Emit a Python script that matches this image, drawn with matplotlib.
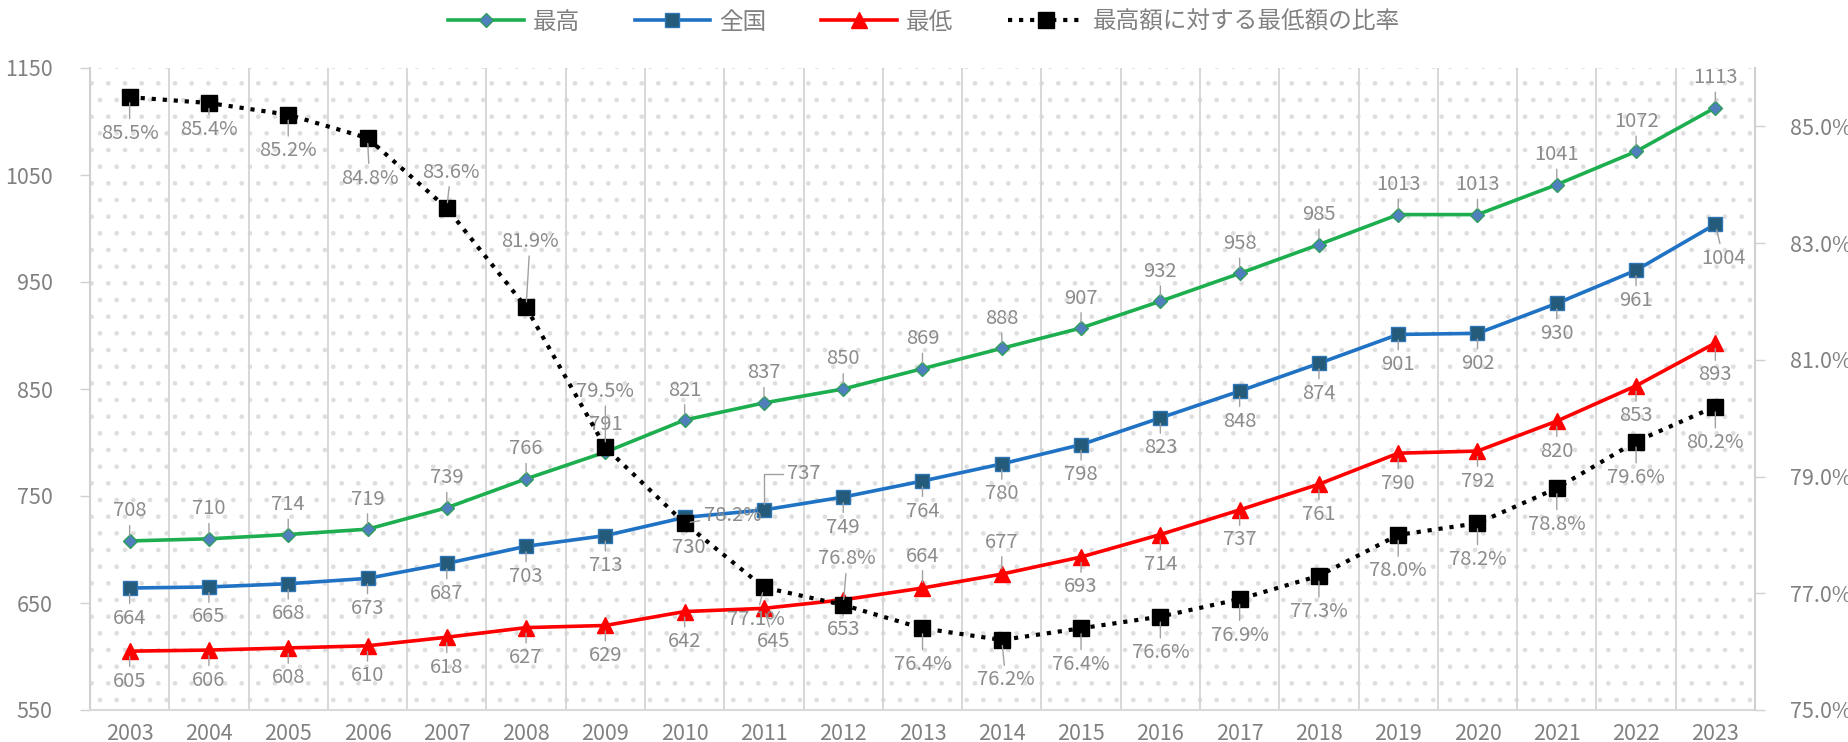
import matplotlib
matplotlib.use("Agg")
import matplotlib.pyplot as plt
from matplotlib.patches import Rectangle
import numpy as np

plt.rcParams['font.family'] = ['Noto Sans CJK JP', 'DejaVu Sans']
plt.rcParams['hatch.linewidth'] = 0.9

years = [str(y) for y in range(2003, 2024)]
highest = [708, 710, 714, 719, 739, 766, 791, 821, 837, 850, 869, 888, 907, 932, 958, 985, 1013, 1013, 1041, 1072, 1113]
national = [664, 665, 668, 673, 687, 703, 713, 730, 737, 749, 764, 780, 798, 823, 848, 874, 901, 902, 930, 961, 1004]
lowest = [605, 606, 608, 610, 618, 627, 629, 642, 645, 653, 664, 677, 693, 714, 737, 761, 790, 792, 820, 853, 893]
ratio = [85.5, 85.4, 85.2, 84.8, 83.6, 81.9, 79.5, 78.2, 77.1, 76.8, 76.4, 76.2, 76.4, 76.6, 76.9, 77.3, 78.0, 78.2, 78.8, 79.6, 80.2]

labels_legend = ['最高', '全国', '最低', '最高額に対する最低額の比率']

# label offsets in pixels (layout only)
off_high = list([(0, 30)] * 21)
off_high[6] = (0, 28)
off_nat = list([(0, -30)] * 21)
off_nat[7] = (4, -30)
off_nat[8] = (40, 36)
off_nat[20] = (8, -34)
off_low = list([(0, -30)] * 21)
off_low[8] = (10, -33)
off_low[10] = (0, 32)
off_low[11] = (0, 32)
off_low[20] = (0, -32)
off_ratio = list([(0, -36)] * 21)
off_ratio[1] = (0, -26)
off_ratio[3] = (2, -40)
off_ratio[4] = (4, 36)
off_ratio[5] = (4, 66)
off_ratio[6] = (0, 56)
off_ratio[7] = (48, 8)
off_ratio[8] = (-8, -32)
off_ratio[11] = (4, -40)
off_ratio[9] = (4, 46)

W, H = 1848, 742
fig = plt.figure(figsize=(W / 100, H / 100), dpi=100)
L, R, T, B = 90, 1755, 68, 710
ax = fig.add_axes([L / W, 1 - B / H, (R - L) / W, (B - T) / H])
ax2 = ax.twinx()

x = np.arange(len(years))
gray = '#808080'
lblcol = '#8c8c8c'

# dotted background
ax.add_patch(Rectangle((0, 0), 1, 1, transform=ax.transAxes, facecolor='white',
                       edgecolor='#dedede', hatch='.', lw=0, zorder=0))

l1, = ax.plot(x, highest, color='#1DAE4F', lw=2.6, marker='D', ms=7,
              mfc='#4F7FBD', mec='#2E9E5B', mew=1, zorder=4)
l2, = ax.plot(x, national, color='#1F72C4', lw=2.6, marker='s', ms=10,
              mfc='#245A7A', mec='#2E75B6', mew=1, zorder=4)
l3, = ax.plot(x, lowest, color='#FF0000', lw=2.6, marker='^', ms=11,
              mfc='#FF0000', mec='#FF0000', zorder=4)
l4, = ax2.plot(x, ratio, color='black', lw=3, ls=':', marker='s', ms=12,
               mfc='black', mec='black', zorder=5)

ax.set_xlim(-0.5, len(years) - 0.5)
ax.set_ylim(550, 1150)
ax2.set_ylim(75, 86)
ax.set_yticks(range(550, 1151, 100))
ax2.set_yticks([75, 77, 79, 81, 83, 85])
ax2.set_yticklabels([f'{v:.1f}%' for v in [75, 77, 79, 81, 83, 85]])
ax.set_xticks(x)
ax.set_xticklabels(years)
ax.set_xticks(np.arange(0.5, len(years) - 0.5, 1), minor=True)
ax.grid(which='minor', axis='x', color='#d4d4d4', lw=1.3)
ax.tick_params(axis='x', which='both', length=0, labelsize=15.5, colors=gray, pad=9)
ax.tick_params(axis='y', length=7, width=1, color='#d0d0d0', labelsize=15.5, labelcolor=gray, pad=20)
ax2.tick_params(axis='y', length=7, width=1, color='#d0d0d0', labelsize=15.5, labelcolor=gray, pad=18)
for a in (ax, ax2):
    for s in a.spines.values():
        s.set_visible(False)
ax.spines['left'].set_visible(True)
ax.spines['left'].set_color('#d0d0d0')
ax.spines['left'].set_linewidth(1.5)
ax.spines['bottom'].set_visible(True)
ax.spines['bottom'].set_color('#d9d9d9')
ax.spines['bottom'].set_linewidth(1.5)
ax2.spines['right'].set_visible(True)
ax2.spines['right'].set_color('#d0d0d0')
ax2.spines['right'].set_linewidth(1.5)


def lab(a, xs, ys, texts, offs):
    for xi, yi, t, o in zip(xs, ys, texts, offs):
        cs = 'arc3'
        if o[0] > 20 and o[1] > 20:
            cs = 'angle,angleA=0,angleB=90,rad=0'
        a.annotate(t, (xi, yi), xytext=o, textcoords='offset pixels', ha='center', va='center',
                   fontsize=14.5, color=lblcol, zorder=6,
                   arrowprops=dict(arrowstyle='-', color='#a0a0a0', lw=1, shrinkA=1, shrinkB=4,
                                   connectionstyle=cs))


lab(ax, x, highest, [str(v) for v in highest], off_high)
lab(ax, x, national, [str(v) for v in national], off_nat)
lab(ax, x, lowest, [str(v) for v in lowest], off_low)
lab(ax2, x, ratio, [f'{v:.1f}%' for v in ratio], off_ratio)

fig.legend([l1, l2, l3, l4], labels_legend, loc='center', bbox_to_anchor=(0.5, 0.970),
           ncol=4, frameon=False, fontsize=17, labelcolor=gray, handlelength=3.2,
           columnspacing=2.3, handletextpad=0.4)

fig.savefig('out.png', dpi=100)
